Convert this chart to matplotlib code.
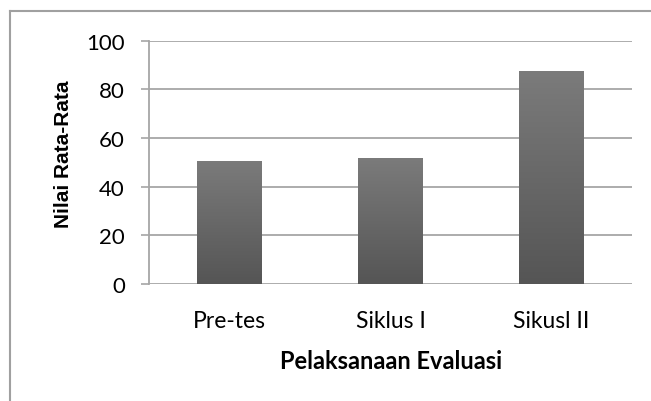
import matplotlib
matplotlib.use("Agg")
import matplotlib.pyplot as plt
import numpy as np
from matplotlib.colors import LinearSegmentedColormap
from matplotlib.lines import Line2D

# data
categories = ["Pre-tes", "Siklus I", "Sikusl II"]
values = [50.7, 52.0, 87.5]
y_ticks = [0, 20, 40, 60, 80, 100]

plt.rcParams['font.family'] = ['Lato', 'DejaVu Sans']

fig = plt.figure(figsize=(6.51, 4.02), dpi=100)
ax = fig.add_axes([0.229, 0.291, 0.742, 0.605])

grid_col = "#a6a6a6"
x = np.arange(len(categories))
bars = ax.bar(x, values, width=0.4, color="none", edgecolor="none", zorder=3)

# vertical gradient inside each bar
cmap = LinearSegmentedColormap.from_list("g", ["#555555", "#7b7b7b"])
grad = np.linspace(0, 1, 256).reshape(-1, 1)
for b in bars:
    x0, w, h = b.get_x(), b.get_width(), b.get_height()
    im = ax.imshow(grad, cmap=cmap, origin="lower", aspect="auto",
                   extent=[x0, x0 + w, 0, h], zorder=3)
    im.set_clip_path(b)

ax.set_xlim(-0.5, len(categories) - 0.5)
ax.set_ylim(0, 100)
ax.set_yticks(y_ticks)
ax.set_xticks(x)
ax.set_xticklabels(categories, fontsize=16.5)
ax.tick_params(axis="y", labelsize=16, length=5.5, width=1.2, color=grid_col, pad=12)
ax.tick_params(axis="x", length=0, pad=19)

ax.grid(axis="y", color=grid_col, linewidth=1.3, zorder=1)
ax.set_axisbelow(True)
for s in ["top", "right", "bottom"]:
    ax.spines[s].set_visible(False)
ax.spines["left"].set_color(grid_col)
ax.spines["left"].set_linewidth(1.3)

ax.set_ylabel("Nilai Rata-Rata", fontsize=15, fontweight="bold",
              family=["Liberation Sans", "DejaVu Sans"])
ax.yaxis.set_label_coords(-0.157, 0.539)
ax.set_xlabel("Pelaksanaan Evaluasi", fontsize=17, fontweight="bold")
ax.xaxis.set_label_coords(0.5, -0.268)

# outer chart frame (only top and left visible in the crop)
fx = 10 / 651
fy = 1 - 12 / 402
fig.add_artist(Line2D([fx, 1], [fy, fy], color="#a0a0a0", lw=1.5, transform=fig.transFigure))
fig.add_artist(Line2D([fx, fx], [0, fy], color="#a0a0a0", lw=1.5, transform=fig.transFigure))

fig.savefig("out.png", dpi=100)
